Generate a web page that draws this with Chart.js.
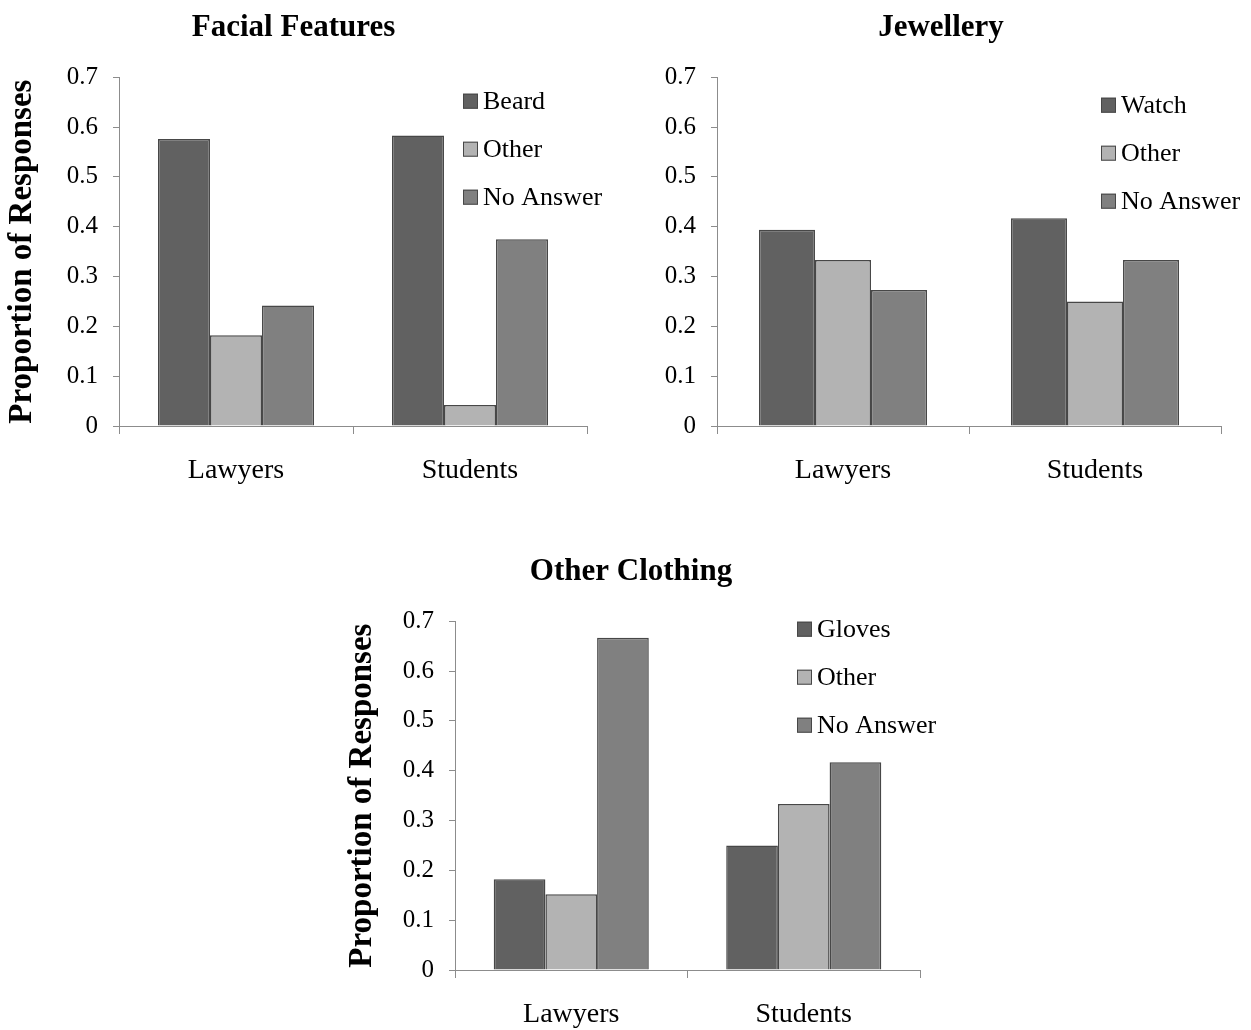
<!DOCTYPE html>
<html>
<head>
<meta charset="utf-8">
<script src="https://cdn.jsdelivr.net/npm/chart.js@4"></script>
<style>
  body { margin: 0; background: #fff; width: 1251px; height: 1030px; position: relative; overflow: hidden; }
  canvas { position: absolute; }
</style>
</head>
<body>
<canvas id="facialChart" width="620" height="510" style="left:0px; top:0px;"></canvas>
<canvas id="jewelleryChart" width="590" height="510" style="left:661px; top:0px;"></canvas>
<canvas id="clothingChart" width="600" height="490" style="left:342px; top:540px;"></canvas>
<script>
// groups on the x axis
var categories = ["Lawyers", "Students"];
var yTickValues = [0, 0.1, 0.2, 0.3, 0.4, 0.5, 0.6, 0.7];

// Facial Features
var facialLabels = ["Beard", "Other", "No Answer"];
var facialBeard = [0.576, 0.583];
var facialOther = [0.182, 0.042];
var facialNoAnswer = [0.242, 0.375];

// Jewellery
var jewelleryLabels = ["Watch", "Other", "No Answer"];
var jewelleryWatch = [0.394, 0.417];
var jewelleryOther = [0.333, 0.25];
var jewelleryNoAnswer = [0.273, 0.333];

// Other Clothing
var clothingLabels = ["Gloves", "Other", "No Answer"];
var clothingGloves = [0.182, 0.25];
var clothingOther = [0.152, 0.333];
var clothingNoAnswer = [0.667, 0.417];

var seriesColors = ["#616161", "#b3b3b3", "#808080"];
var barBorder = "#474747";
var axisColor = "#8c8c8c";
var serif = "'Liberation Serif', 'Times New Roman', serif";

// little square legend drawn inside the plot, like the Excel one
var boxLegend = {
    id: "boxLegend",
    afterDraw: function (chart, args, opts) {
        var ctx = chart.ctx;
        var area = chart.chartArea;
        ctx.save();
        ctx.font = "26px " + serif;
        ctx.textBaseline = "middle";
        ctx.textAlign = "left";
        chart.data.datasets.forEach(function (ds, i) {
            var x = area.left + opts.dx;
            var y = area.top + opts.dy + i * opts.gap;
            ctx.fillStyle = ds.backgroundColor;
            ctx.fillRect(x, y - 7.5, 15, 15);
            ctx.strokeStyle = barBorder;
            ctx.lineWidth = 1;
            ctx.strokeRect(x + 0.5, y - 7, 14, 14);
            ctx.fillStyle = "#000";
            ctx.fillText(ds.label, x + 20, y + 1);
        });
        ctx.restore();
    }
};

function makeChart(id, title, labels, series, cfg) {
    var datasets = [];
    for (var i = 0; i < labels.length; i++) {
        datasets.push({
            label: labels[i],
            data: series[i],
            backgroundColor: seriesColors[i],
            borderColor: barBorder,
            borderWidth: 1.5,
            categoryPercentage: 0.667,
            barPercentage: 1.0
        });
    }

    return new Chart(document.getElementById(id), {
        type: "bar",
        data: { labels: categories, datasets: datasets },
        plugins: [boxLegend],
        options: {
            responsive: false,
            animation: false,
            layout: { padding: { left: 0, right: cfg.rightPad, top: 0, bottom: 0 } },
            plugins: {
                legend: { display: false },
                tooltip: { enabled: false },
                title: {
                    display: true,
                    text: title,
                    color: "#000",
                    font: { family: serif, size: 31, weight: "bold" },
                    padding: { top: cfg.titleTop, bottom: cfg.titleBottom }
                },
                boxLegend: cfg.legend
            },
            scales: {
                x: {
                    grid: {
                        display: true,
                        offset: true,
                        drawOnChartArea: false,
                        drawTicks: true,
                        tickLength: 8,
                        color: axisColor
                    },
                    border: { color: axisColor, width: 1 },
                    ticks: {
                        color: "#000",
                        font: { family: serif, size: 28 },
                        padding: 20
                    },
                    afterFit: function (scale) { scale.height = cfg.xHeight; }
                },
                y: {
                    min: 0,
                    max: 0.7,
                    afterBuildTicks: function (scale) {
                        scale.ticks = yTickValues.map(function (v) { return { value: v }; });
                    },
                    grid: {
                        display: true,
                        drawOnChartArea: false,
                        drawTicks: true,
                        tickLength: 6,
                        color: axisColor
                    },
                    border: { color: axisColor, width: 1 },
                    ticks: {
                        color: "#000",
                        font: { family: serif, size: 25 },
                        padding: 15,
                        callback: function (v) { return v === 0 ? "0" : v.toFixed(1); }
                    },
                    title: {
                        display: cfg.yTitle,
                        text: "Proportion of Responses",
                        color: "#000",
                        font: { family: serif, size: 33, weight: "bold" },
                        padding: { top: cfg.yTitlePad, bottom: 0 }
                    },
                    afterFit: function (scale) { scale.width = cfg.yWidth; }
                }
            }
        }
    });
}

makeChart("facialChart", "Facial Features", facialLabels,
    [facialBeard, facialOther, facialNoAnswer],
    { rightPad: 33, titleTop: 9, titleBottom: 31, xHeight: 84, yWidth: 119, yTitle: true, yTitlePad: 3,
      legend: { dx: 344, dy: 24, gap: 48 } });

makeChart("jewelleryChart", "Jewellery", jewelleryLabels,
    [jewelleryWatch, jewelleryOther, jewelleryNoAnswer],
    { rightPad: 30, titleTop: 9, titleBottom: 31, xHeight: 84, yWidth: 56, yTitle: false, yTitlePad: 0,
      legend: { dx: 384, dy: 28, gap: 48 } });

makeChart("clothingChart", "Other Clothing", clothingLabels,
    [clothingGloves, clothingOther, clothingNoAnswer],
    { rightPad: 22, titleTop: 13, titleBottom: 31, xHeight: 60, yWidth: 113, yTitle: true, yTitlePad: 1,
      legend: { dx: 342, dy: 8, gap: 48 } });
</script>
</body>
</html>
